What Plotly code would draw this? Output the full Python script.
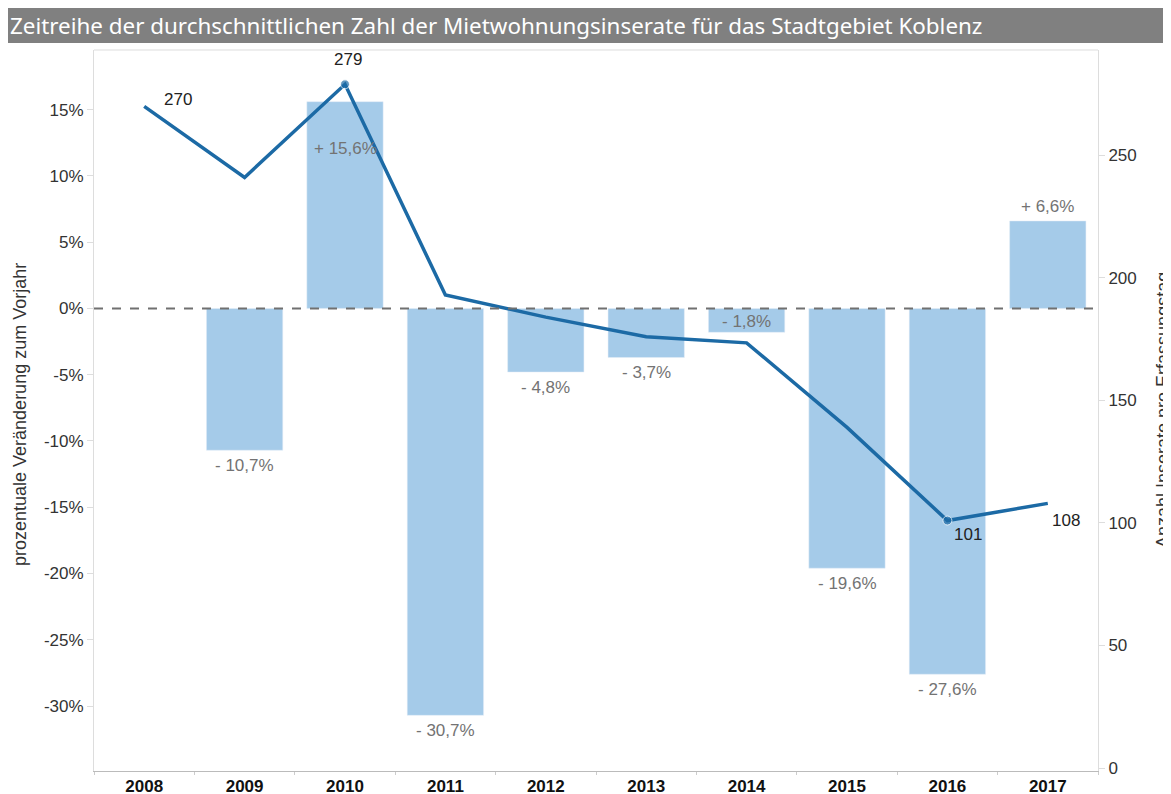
import plotly.graph_objects as go
import numpy as np

years = ["2008", "2009", "2010", "2011", "2012", "2013", "2014", "2015", "2016", "2017"]
pct_change = [None, -10.7, 15.6, -30.7, -4.8, -3.7, -1.8, -19.6, -27.6, 6.6]
listings = [270, 241, 279, 193, 184, 176, 173.5, 139, 101, 108]
labeled_listings = {"2008": "270", "2010": "279", "2016": "101", "2017": "108"}
left_ticks = [15, 10, 5, 0, -5, -10, -15, -20, -25, -30]
right_ticks = [0, 50, 100, 150, 200, 250]

# the page body adds an 8px offset, so the figure is sized to fit the window
OFF = 8
W, H = 1171 - OFF, 794 - OFF
L, R, T, B = 94 - OFF, 73, 50 - OFF, 23
PW, PH = W - L - R, H - T - B

BAR_COLOR = "#a5cbe9"
LINE_COLOR = "#1c6aa5"
FONT = "Liberation Sans, Arial, sans-serif"


def px_x(p):
    return (p - OFF - L) / PW


def px_y(p):
    return (H - B - (p - OFF)) / PH


def fmt(v):
    s = "+ " if v > 0 else "- "
    return s + f"{abs(v):.1f}".replace(".", ",") + "%"


fig = go.Figure()
fig.add_trace(go.Bar(x=years, y=pct_change, marker_color=BAR_COLOR, width=0.76,
                     yaxis="y", showlegend=False, hoverinfo="skip"))

arr = np.array(listings)
sizes = [9 if i in (int(arr.argmax()), int(arr.argmin())) else 0 for i in range(len(listings))]
fig.add_trace(go.Scatter(x=years, y=listings, yaxis="y2", mode="lines+markers",
                         line=dict(color=LINE_COLOR, width=3.5),
                         marker=dict(size=sizes, color=LINE_COLOR),
                         showlegend=False, hoverinfo="skip"))

# bar labels (offsets in pixels relative to bar end)
bar_label_shift = {"2010": -47, "2014": 11}
for i, (yr, v) in enumerate(zip(years, pct_change)):
    if v is None:
        continue
    default = 14 if v > 0 else -15
    ys = bar_label_shift.get(yr, default)
    fig.add_annotation(x=i, y=v, xref="x", yref="y", text=fmt(v), showarrow=False,
                       yshift=ys, font=dict(family=FONT, size=17, color="#737373"))

# line labels
line_label_shift = {"2008": (34, 7), "2010": (3, 25), "2016": (21, -14), "2017": (18, -17)}
for i, (yr, val) in enumerate(zip(years, listings)):
    if yr in labeled_listings:
        dx, dy = line_label_shift[yr]
        fig.add_annotation(x=i, y=val, xref="x", yref="y2", text=labeled_listings[yr],
                           showarrow=False, xshift=dx, yshift=dy,
                           font=dict(family=FONT, size=17, color="#222222"))

shapes = [
    # title bar
    dict(type="rect", xref="paper", yref="paper", x0=px_x(7), x1=px_x(1180),
         y0=px_y(43), y1=px_y(6), fillcolor="#808080", line_width=0, layer="below"),
    # top border
    dict(type="line", xref="paper", yref="paper", x0=0, x1=1, y0=1, y1=1,
         line=dict(color="#dddddd", width=1)),
    # zero line
    dict(type="line", xref="paper", yref="y", x0=0, x1=1, y0=0, y1=0,
         line=dict(color="#707070", width=2, dash="dash")),
]

fig.add_annotation(xref="paper", yref="paper", x=px_x(8), y=px_y(25), xanchor="left",
                   yanchor="middle", showarrow=False,
                   text="Zeitreihe der durchschnittlichen Zahl der Mietwohnungsinserate für das Stadtgebiet Koblenz",
                   font=dict(family="Noto Sans, Open Sans, sans-serif", size=22.4, color="white"))

fig.add_annotation(xref="paper", yref="paper", x=px_x(20), y=px_y(415), textangle=-90,
                   showarrow=False, xanchor="center", yanchor="middle",
                   text="prozentuale Veränderung zum Vorjahr",
                   font=dict(family=FONT, size=18, color="#333333"))
fig.add_annotation(xref="paper", yref="paper", x=px_x(1163), y=px_y(410), textangle=-90,
                   showarrow=False, xanchor="center", yanchor="middle",
                   text="Anzahl Inserate pro Erfassungstag",
                   font=dict(family=FONT, size=18, color="#333333"))

fig.update_layout(
    width=W, height=H, margin=dict(l=L, r=R, t=T, b=B, autoexpand=False),
    plot_bgcolor="white", paper_bgcolor="white", shapes=shapes, bargap=0.24,
    xaxis=dict(type="category", range=[-0.5, len(years) - 0.5], autorange=False,
               automargin=False,
               showgrid=False, showline=True, linecolor="#bbbbbb",
               linewidth=1, ticks="outside", tickson="boundaries", ticklen=3,
               tickcolor="#cccccc",
               tickfont=dict(family="Liberation Sans Narrow, Arial Narrow, Liberation Sans",
                             size=17, color="#111111", weight="bold")),
    yaxis=dict(range=[-34.9, 19.5], automargin=False, showgrid=False, zeroline=False,
               showline=True,
               linecolor="#dddddd", ticks="outside", ticklen=6, tickcolor="#dddddd",
               tickvals=left_ticks, ticktext=[f"{t}%" for t in left_ticks],
               tickfont=dict(family=FONT, size=17, color="#333333")),
    yaxis2=dict(range=[-1.2, 293], automargin=False, overlaying="y", side="right",
                showgrid=False,
                zeroline=False, showline=True, linecolor="#dddddd", ticks="outside",
                ticklen=6, tickcolor="#dddddd", tickvals=right_ticks,
                tickfont=dict(family=FONT, size=17, color="#333333")),
)

fig.write_html("out.html")
